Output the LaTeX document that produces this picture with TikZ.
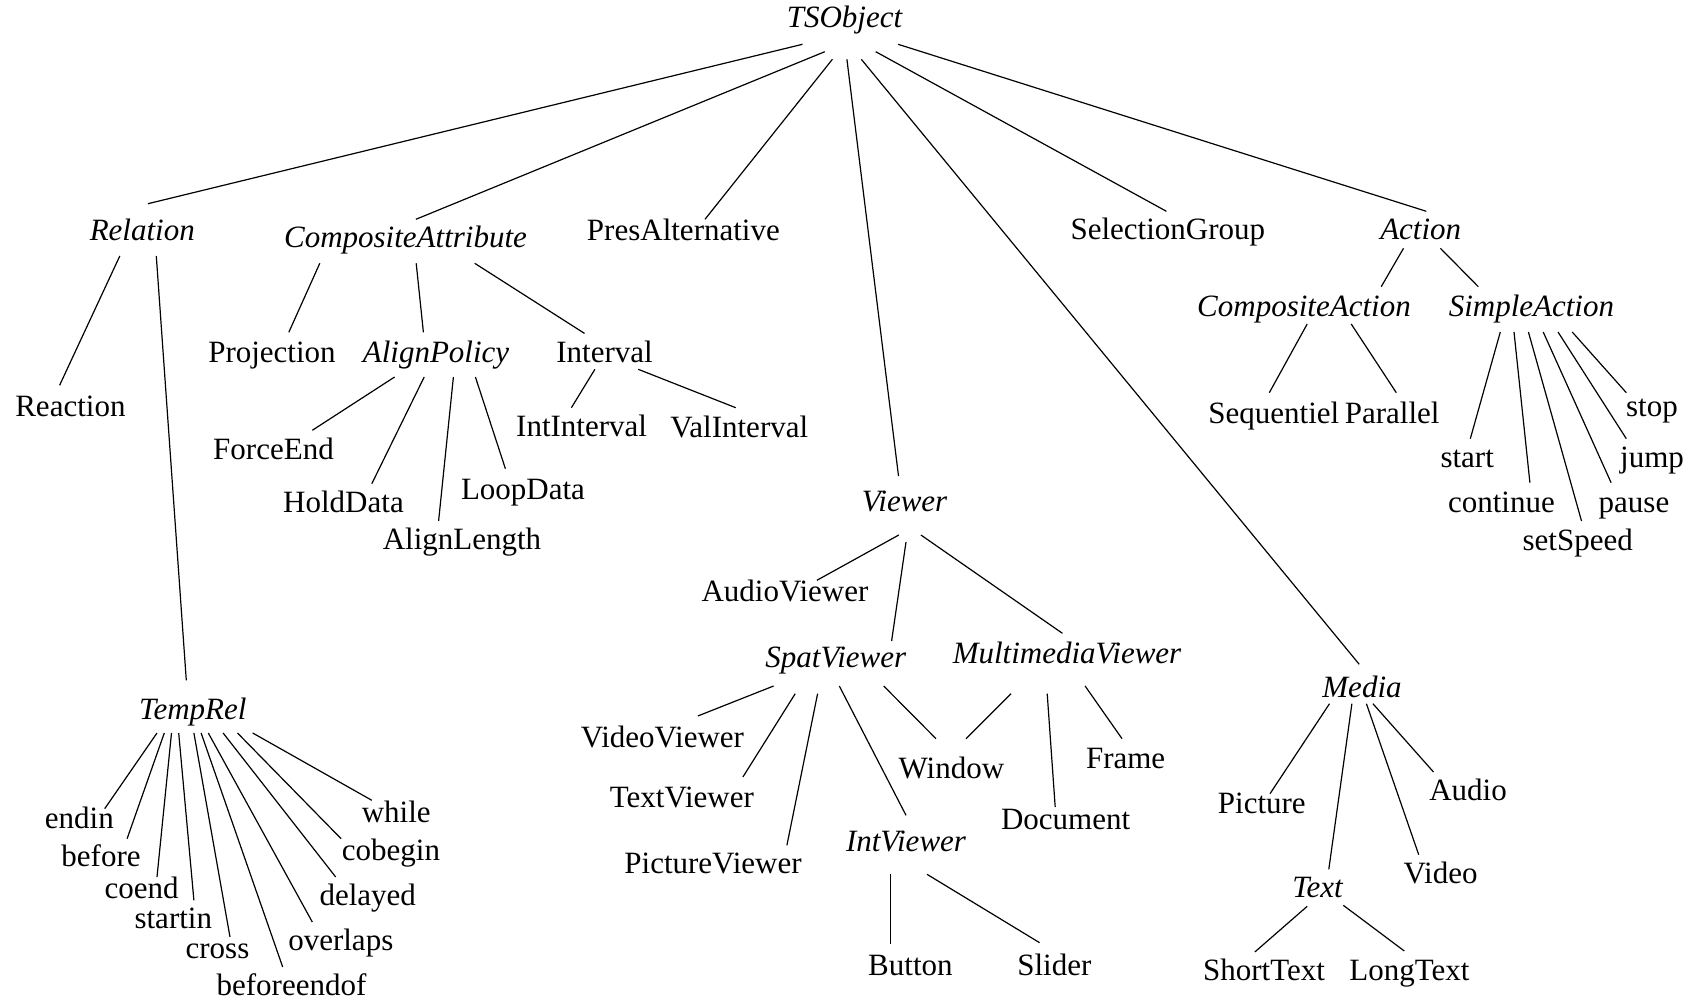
\documentclass[tikz,border=0pt]{standalone}
\usepackage{fontspec}
\setmainfont{Liberation Serif}
\usetikzlibrary{calc}
\tikzset{
  lbl/.style={anchor=base, inner sep=0pt, outer sep=0pt, font=\fontsize{31}{37}\selectfont},
  abst/.style={anchor=base, inner sep=0pt, outer sep=0pt, font=\fontsize{31}{37}\selectfont\itshape},
  edge/.style={draw=black, line width=1.2pt}
}
\newcommand\lnk[6]{\draw[edge] ($(#1.base)+(#2,#3)$) -- ($(#4.base)+(#5,#6)$);}
\begin{document}
\begin{tikzpicture}[x=1pt,y=-1pt]
\useasboundingbox (0,0) rectangle (1697,1008);
% level 0/1
\node[abst] (TS) at (844.5,28) {TSObject};
\node[abst] (Rel) at (142.3,240.7) {Relation};
\node[abst] (CA) at (405.5,247.5) {CompositeAttribute};
\node[lbl] (PA) at (683.4,240.5) {PresAlternative};
\node[lbl] (SG) at (1167.8,240) {SelectionGroup};
\node[abst] (Act) at (1420.7,240) {Action};
% Relation subtree
\node[lbl] (Reac) at (70.4,416) {Reaction};
\node[abst] (TR) at (192.8,719.7) {TempRel};
\node[lbl] (endin) at (79.4,828.7) {endin};
\node[lbl] (before) at (101,866.3) {before};
\node[lbl] (coend) at (141.7,898.7) {coend};
\node[lbl] (startin) at (173.3,928.7) {startin};
\node[lbl] (cross) at (217.5,958.7) {cross};
\node[lbl] (beforeendof) at (291.5,995.3) {beforeendof};
\node[lbl] (overlaps) at (340.8,950.3) {overlaps};
\node[lbl] (delayed) at (367.7,905.3) {delayed};
\node[lbl] (cobegin) at (391,860.3) {cobegin};
\node[lbl] (while) at (396.2,822.7) {while};
% CompositeAttribute subtree
\node[lbl] (Proj) at (272,362) {Projection};
\node[abst] (AP) at (436,362) {AlignPolicy};
\node[lbl] (Int) at (604.5,362) {Interval};
\node[lbl] (FE) at (273.5,459.3) {ForceEnd};
\node[lbl] (HD) at (343.5,512) {HoldData};
\node[lbl] (AL) at (462,549.3) {AlignLength};
\node[lbl] (LD) at (523,499.3) {LoopData};
\node[lbl] (II) at (581.6,436) {IntInterval};
\node[lbl] (VI) at (739.3,437.7) {ValInterval};
% Viewer subtree
\node[abst] (View) at (904.5,511.7) {Viewer};
\node[lbl] (AV) at (785,601) {AudioViewer};
\node[abst] (SV) at (835.8,667) {SpatViewer};
\node[abst] (MV) at (1067,663) {MultimediaViewer};
\node[lbl] (VV) at (662.4,747) {VideoViewer};
\node[lbl] (TV) at (681.9,807) {TextViewer};
\node[lbl] (PV) at (713,873) {PictureViewer};
\node[lbl] (Win) at (951.4,778) {Window};
\node[lbl] (Doc) at (1065.6,829.3) {Document};
\node[lbl] (Fr) at (1125.6,768.7) {Frame};
\node[abst] (IV) at (906,851) {IntViewer};
\node[lbl] (But) at (910.4,975.3) {Button};
\node[lbl] (Sl) at (1054.3,975.3) {Slider};
% Media subtree
\node[abst] (Med) at (1362,697) {Media};
\node[lbl] (Pic) at (1261.8,813.7) {Picture};
\node[lbl] (Aud) at (1468,800.3) {Audio};
\node[lbl] (Vid) at (1440.6,883.7) {Video};
\node[abst] (Txt) at (1317.5,897) {Text};
\node[lbl] (ST) at (1264,980.3) {ShortText};
\node[lbl] (LT) at (1409.5,980.3) {LongText};
% Action subtree
\node[abst] (CAc) at (1304,316.7) {CompositeAction};
\node[abst] (SA) at (1531.4,316.7) {SimpleAction};
\node[lbl] (Seq) at (1273.8,423.3) {Sequentiel};
\node[lbl] (Par) at (1392.2,423.3) {Parallel};
\node[lbl] (aStart) at (1467.2,467.7) {start};
\node[lbl] (aCont) at (1501.4,512.7) {continue};
\node[lbl] (aSet) at (1577.7,550) {setSpeed};
\node[lbl] (aPause) at (1634,512.7) {pause};
\node[lbl] (aJump) at (1652,467.7) {jump};
\node[lbl] (aStop) at (1652,416) {stop};
% edges from TSObject
\lnk{TS}{-42}{16.3}{Rel}{5.7}{-37}
\lnk{TS}{-19.7}{23.7}{CA}{10.4}{-28.2}
\lnk{TS}{-12.1}{31.3}{PA}{21.6}{-21.2}
\lnk{TS}{2.4}{31.3}{View}{-6}{-35.7}
\lnk{TS}{16.8}{31.3}{Med}{-2.8}{-32.7}
\lnk{TS}{31.2}{23.7}{SG}{-1.4}{-28.7}
\lnk{TS}{53.6}{16.3}{Act}{5.6}{-28.7}
% Relation
\lnk{Rel}{-22.5}{15.3}{Reac}{-10.8}{-30.7}
\lnk{Rel}{14}{15.3}{TR}{-6.5}{-39.4}
% CompositeAttribute
\lnk{CA}{-85.7}{15.8}{Proj}{16.8}{-29.7}
\lnk{CA}{10.7}{15.8}{AP}{-12.6}{-29.7}
\lnk{CA}{69.2}{15.8}{Int}{-20}{-28.6}
\lnk{AP}{-41.4}{15}{FE}{38.8}{-29}
\lnk{AP}{-11.8}{15}{HD}{28.3}{-28.3}
\lnk{AP}{17.4}{15}{AL}{-23.4}{-28.3}
\lnk{AP}{39.4}{15}{LD}{-17.6}{-30.6}
\lnk{Int}{-9.6}{7.3}{II}{-10.2}{-28.3}
\lnk{Int}{33.7}{7.3}{VI}{-3.6}{-30}
% Viewer
\lnk{View}{-5.7}{23.3}{AV}{31.9}{-20.7}
\lnk{View}{1.5}{30.3}{SV}{55.8}{-26}
\lnk{View}{16.4}{23.3}{MV}{-4.6}{-29.7}
\lnk{SV}{-62.2}{19}{VV}{35.4}{-31}
\lnk{SV}{-40.6}{26.7}{TV}{61}{-30}
\lnk{SV}{-18.2}{26.7}{PV}{73.9}{-27.7}
\lnk{SV}{3.5}{19}{IV}{0}{-35.7}
\lnk{SV}{47.9}{19}{Win}{-15.4}{-39.3}
\lnk{MV}{-55.9}{30.7}{Win}{14.6}{-39.3}
\lnk{MV}{-19.8}{30.7}{Doc}{-10.4}{-22.3}
\lnk{MV}{18.1}{23}{Fr}{-3.6}{-30}
\lnk{IV}{-15.8}{23.3}{But}{-20.2}{-31.6}
\lnk{IV}{21}{23.3}{Sl}{-14.7}{-32.6}
% Media
\lnk{Med}{-32.5}{6.7}{Pic}{8.2}{-20}
\lnk{Med}{-10.1}{6.7}{Txt}{11.3}{-27.7}
\lnk{Med}{4.4}{6.7}{Vid}{-21.9}{-29}
\lnk{Med}{10.9}{6.7}{Aud}{-34.5}{-28.3}
\lnk{Txt}{-10.3}{9.3}{ST}{-9.2}{-28.3}
\lnk{Txt}{25.8}{8.3}{LT}{-5.2}{-29.3}
% Action
\lnk{Act}{-17.2}{8.3}{CAc}{77.2}{-30}
\lnk{Act}{19.7}{8.3}{SA}{-53.1}{-30}
\lnk{CAc}{3.2}{7.3}{Seq}{-4.5}{-30.6}
\lnk{CAc}{47.2}{7.3}{Par}{4.1}{-30.6}
\lnk{SA}{-31.1}{15.3}{aStart}{3.1}{-29}
\lnk{SA}{-17.4}{15.3}{aCont}{28.5}{-30}
\lnk{SA}{-3}{15.3}{aSet}{3.8}{-29}
\lnk{SA}{11.8}{15.3}{aPause}{-22.9}{-30}
\lnk{SA}{26.6}{15.3}{aJump}{-25.7}{-29}
\lnk{SA}{40.8}{15.3}{aStop}{-25.7}{-23.3}
% TempRel
\lnk{TR}{-35.8}{13.3}{endin}{25.3}{-20}
\lnk{TR}{-28.5}{13.3}{before}{26.1}{-27.6}
\lnk{TR}{-21.3}{13.3}{coend}{15.3}{-21.7}
\lnk{TR}{-14.1}{13.3}{startin}{20.6}{-28.4}
\lnk{TR}{1.1}{13.3}{cross}{12.5}{-21.7}
\lnk{TR}{8.3}{13.3}{beforeendof}{-8.8}{-28.3}
\lnk{TR}{15.5}{13.3}{overlaps}{-28.5}{-28.3}
\lnk{TR}{30.3}{13.3}{delayed}{-32}{-28.3}
\lnk{TR}{44.7}{13.3}{cobegin}{-49.9}{-21.6}
\lnk{TR}{59.9}{13.3}{while}{-24.4}{-22.4}
\end{tikzpicture}
\end{document}
